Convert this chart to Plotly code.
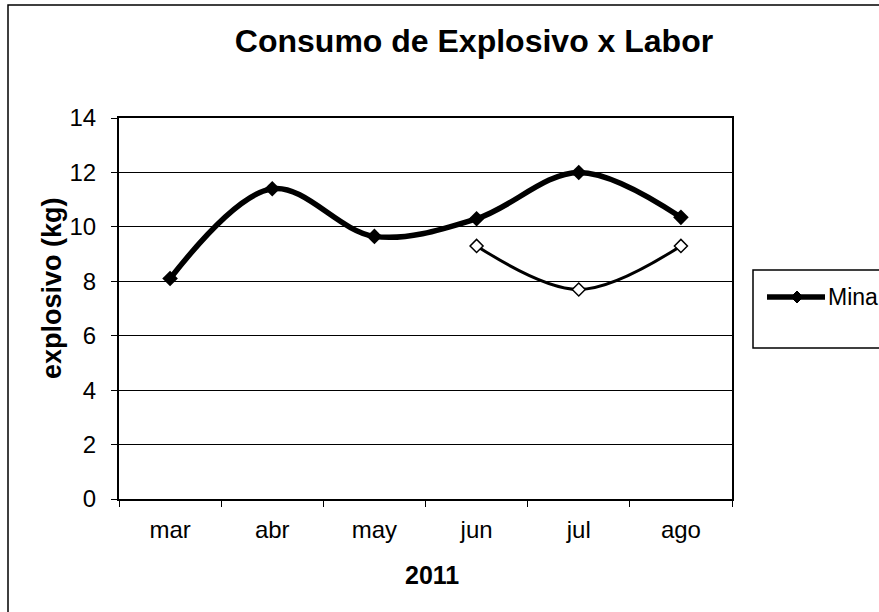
import plotly.graph_objects as go

meses = ["mar", "abr", "may", "jun", "jul", "ago"]
mina = [8.1, 11.4, 9.65, 10.3, 12.0, 10.35]
serie2 = [None, None, None, 9.3, 7.7, 9.3]

FONT = "Liberation Sans, Arial, sans-serif"

L, R, T, B = 119, 147, 118, 113
W, H = 879, 612
PW, PH = W - L - R, H - T - B


def px(x):
    return (x - L) / PW


def py(y):
    return (H - B - y) / PH


fig = go.Figure()
fig.add_trace(go.Scatter(
    x=meses, y=serie2, mode="lines+markers", name="Serie 2", showlegend=False,
    line=dict(color="black", width=3, shape="spline", smoothing=1),
    marker=dict(symbol="diamond", size=10, color="white", line=dict(color="black", width=1.5)),
    connectgaps=False,
))
fig.add_trace(go.Scatter(
    x=meses, y=mina, mode="lines+markers", name="Mina", showlegend=False,
    line=dict(color="black", width=5.5, shape="spline", smoothing=1),
    marker=dict(symbol="diamond", size=12, color="black"),
))

fig.update_layout(
    width=W, height=H,
    margin=dict(l=L, r=R, t=T, b=B),
    paper_bgcolor="white", plot_bgcolor="white",
    font=dict(family=FONT, color="black", size=24),
    title=dict(text="<b>Consumo de Explosivo x Labor</b>", x=474 / W, xanchor="center",
               y=1 - 41 / H, yanchor="middle", font=dict(size=32, family=FONT, color="black")),
    showlegend=False,
    xaxis=dict(
        type="category", range=[-0.5, 5.5], tickson="boundaries",
        ticks="outside", ticklen=6, tickcolor="black", tickwidth=1,
        showline=True, linecolor="black", linewidth=2, mirror=True,
        showgrid=False, tickfont=dict(size=24), ticklabelstandoff=8,
    ),
    yaxis=dict(
        range=[0, 14], dtick=2, ticks="outside", ticklen=6, tickcolor="black",
        showline=True, linecolor="black", linewidth=2, mirror=True,
        showgrid=True, gridcolor="black", gridwidth=1, zeroline=False,
        tickfont=dict(size=24), ticklabelstandoff=10,
    ),
)

# axis titles
fig.add_annotation(text="<b>2011</b>", xref="paper", yref="paper", x=px(432), y=py(575),
                   xanchor="center", yanchor="middle", showarrow=False,
                   font=dict(size=25, family=FONT, color="black"))
fig.add_annotation(text="<b>explosivo (kg)</b>", xref="paper", yref="paper", x=px(52), y=py(288),
                   xanchor="center", yanchor="middle", showarrow=False, textangle=-90,
                   font=dict(size=27, family=FONT, color="black"))

# outer chart frame (cut off at right and bottom)
fig.add_shape(type="rect", xref="paper", yref="paper",
              x0=px(8), x1=px(W + 50), y0=py(H + 50), y1=py(5),
              line=dict(color="black", width=1.5), fillcolor="rgba(0,0,0,0)", layer="below")
# legend box (cut off at right)
fig.add_shape(type="rect", xref="paper", yref="paper",
              x0=px(753), x1=px(W + 50), y0=py(348), y1=py(270),
              line=dict(color="black", width=1.5), fillcolor="rgba(0,0,0,0)")
# legend symbol: line + diamond marker
fig.add_shape(type="line", xref="paper", yref="paper",
              x0=px(767), x1=px(825), y0=py(297), y1=py(297),
              line=dict(color="black", width=5.5))
cx, cy, d = 797, 297, 6
fig.add_shape(type="path", xref="paper", yref="paper",
              path=f"M {px(cx - d)} {py(cy)} L {px(cx)} {py(cy - d)} L {px(cx + d)} {py(cy)} L {px(cx)} {py(cy + d)} Z",
              line=dict(color="black", width=1), fillcolor="black")
fig.add_annotation(text="Mina", xref="paper", yref="paper", x=px(826), y=py(297),
                   xanchor="left", yanchor="middle", showarrow=False,
                   font=dict(size=23, family=FONT, color="black"))

fig.write_html("out.html")
